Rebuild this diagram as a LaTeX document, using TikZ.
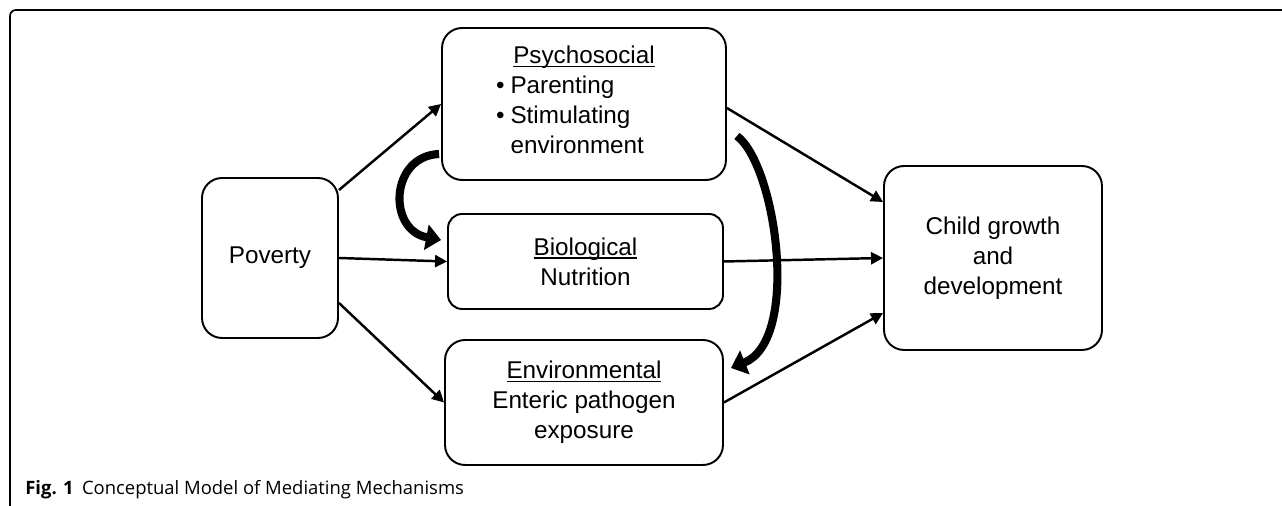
\documentclass[tikz,border=0pt]{standalone}
\usepackage{fontspec}
\setmainfont{Liberation Sans}
\newfontfamily\capfont{Open Sans}
\usetikzlibrary{arrows.meta}
\newcommand\undl[1]{\leavevmode\setbox0\hbox{#1}\rlap{\rule[-2pt]{\wd0}{0.8pt}}\box0}

\begin{document}
\begin{tikzpicture}[x=0.02cm,y=0.02cm,
  box/.style={draw,line width=1.1pt,rounded corners=0.4cm,align=center,inner sep=0pt,
    font=\fontsize{13.8}{17}\selectfont},
  link/.style={line width=1.4pt,-{Triangle[length=0.24cm,width=0.24cm]}},
  swing/.style={line width=4.6pt,-{Triangle[length=0.3cm,width=0.5cm]}}]
\useasboundingbox (0,0) rectangle (1282,506);
% frame and caption
\draw[line width=0.95pt,rounded corners=0.12cm] (10,0) -- (10,496) -- (1282,496);
\node[anchor=base west,inner sep=0pt,font=\capfont\fontsize{10.5}{12}\selectfont] (cap) at (25,11)
  {\textbf{Fig. 1}\hspace{0.45em}Conceptual Model of Mediating Mechanisms};
% boxes
\node[box,minimum width=2.72cm,minimum height=3.2cm] (pov) at (270,248) {Poverty};
\node[box,minimum width=5.68cm,minimum height=3.04cm] (psych) at (584,402)
  {\undl{Psychosocial}\\
   \hspace*{-0.56cm}\begin{tabular}[t]{@{}l@{\hspace{0.12cm}}l@{}}
   \textbullet & Parenting\\
   \textbullet & Stimulating\\
               & environment
   \end{tabular}};
\node[box,rounded corners=0.28cm,minimum width=5.5cm,minimum height=1.9cm] (bio) at (585.5,244.5)
  {\undl{Biological}\\Nutrition};
\node[box,minimum width=5.56cm,minimum height=2.5cm] (env) at (584,103.5)
  {\undl{Environmental}\\Enteric pathogen\\exposure};
\node[box,minimum width=4.36cm,minimum height=3.68cm] (child) at (993,248)
  {Child growth\\and\\development};
% paths
\draw[link] ([yshift=-0.26cm]pov.north east) -- (psych.west);
\draw[link] (pov.east) -- (bio.west);
\draw[link] ([yshift=-0.9cm]pov.east) -- (env.west);
\draw[link] ([yshift=-0.08cm]psych.east) -- ([yshift=1.12cm]child.west);
\draw[link] (bio.east) -- (child.west);
\draw[link] (env.east) -- ([yshift=-1.1cm]child.west);
% mediators
\draw[swing] ([shift={(-2,-50)}]psych.west) .. controls +(-49,-2) and +(-54,10) .. ([shift={(-6,21.5)}]bio.west);
\draw[swing] ([shift={(10,-32)}]psych.east) .. controls +(39,-29) and +(70,28) .. ([shift={(7,34.5)}]env.east);
\end{tikzpicture}
\end{document}
